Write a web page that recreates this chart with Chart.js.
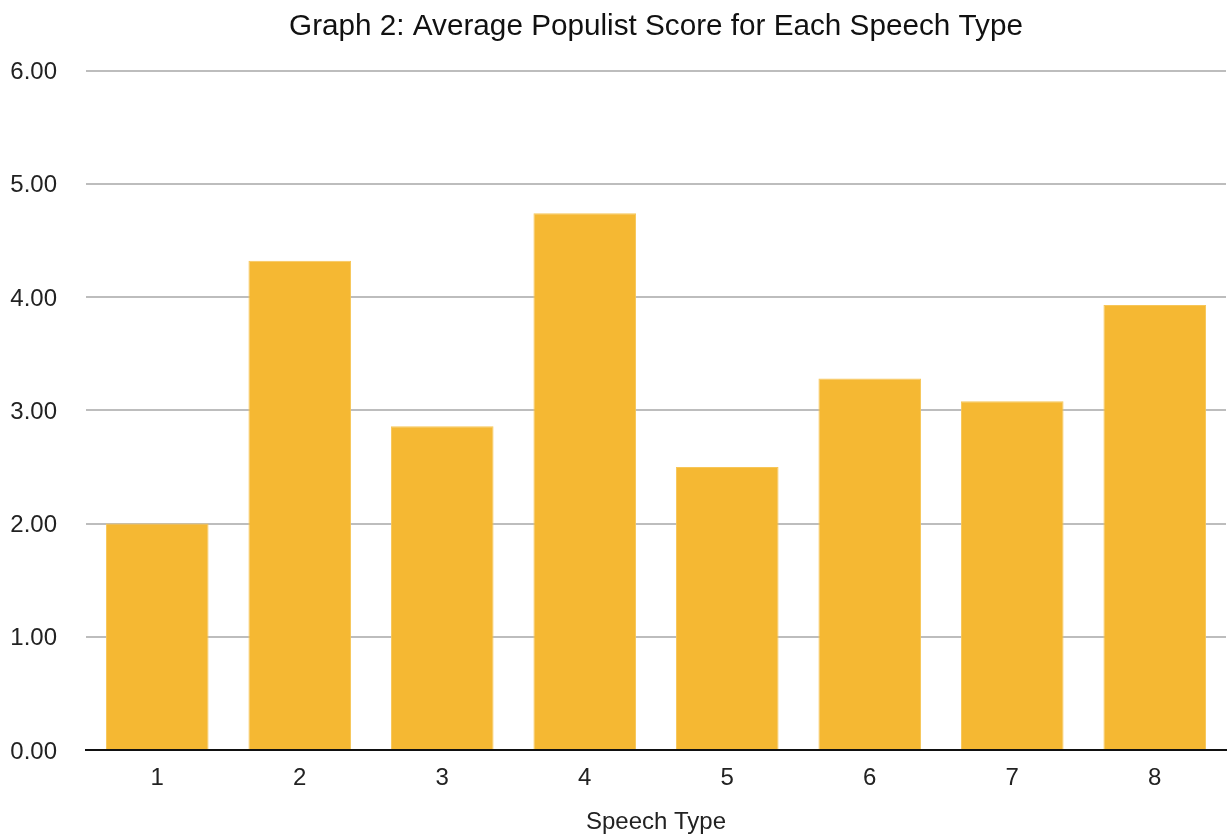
<!DOCTYPE html>
<html>
<head>
<meta charset="utf-8">
<script src="https://cdn.jsdelivr.net/npm/chart.js@4.4.1/dist/chart.umd.min.js"></script>
<style>
html,body{margin:0;padding:0;background:#fff;}
#wrap{width:1228px;height:834px;position:relative;}
</style>
</head>
<body>
<div id="wrap"><canvas id="c"></canvas></div>
<script>
const categories = ['1','2','3','4','5','6','7','8'];
const scores = [2.00, 4.32, 2.86, 4.74, 2.50, 3.28, 3.08, 3.93];
const yTicks = [0, 1, 2, 3, 4, 5, 6];
const chartTitle = 'Graph 2: Average Populist Score for Each Speech Type';
const xTitle = 'Speech Type';

const FONT = "'Liberation Sans', Arial, Helvetica, sans-serif";

new Chart(document.getElementById('c'), {
  type: 'bar',
  data: {
    labels: categories,
    datasets: [{
      data: scores,
      backgroundColor: '#F5B833',
      borderColor: '#F7C658',
      borderWidth: 1,
      barPercentage: 0.72,
      categoryPercentage: 1.0
    }]
  },
  options: {
    responsive: true,
    maintainAspectRatio: false,
    animation: false,
    layout: { padding: { left: 0, right: 2, top: 8, bottom: 0 } },
    plugins: {
      legend: { display: false },
      tooltip: { enabled: false },
      title: {
        display: true,
        fullSize: false,
        text: chartTitle,
        color: '#111',
        font: { family: FONT, size: 29.7, weight: 'normal', lineHeight: 1.2 },
        padding: { top: 0.6, bottom: 26.4 }
      }
    },
    scales: {
      x: {
        grid: { display: false, drawTicks: false },
        border: { display: true, color: '#111', width: 2 },
        ticks: { color: '#222', font: { family: FONT, size: 24, lineHeight: 1.0 }, padding: 16 },
        title: {
          display: true,
          text: xTitle,
          color: '#222',
          font: { family: FONT, size: 24, lineHeight: 1.0 },
          padding: { top: 4, bottom: 0 }
        }
      },
      y: {
        min: 0,
        max: 6,
        afterBuildTicks: (axis) => { axis.ticks = yTicks.map(v => ({ value: v })); },
        afterFit: (axis) => { axis.width = 86; },
        grid: { color: '#BDBDBD', lineWidth: 2, drawTicks: false },
        border: { display: false },
        ticks: {
          color: '#222',
          font: { family: FONT, size: 24 },
          padding: 29,
          labelOffset: 2,
          callback: (v) => Number(v).toFixed(2)
        }
      }
    }
  }
});
</script>
</body>
</html>
